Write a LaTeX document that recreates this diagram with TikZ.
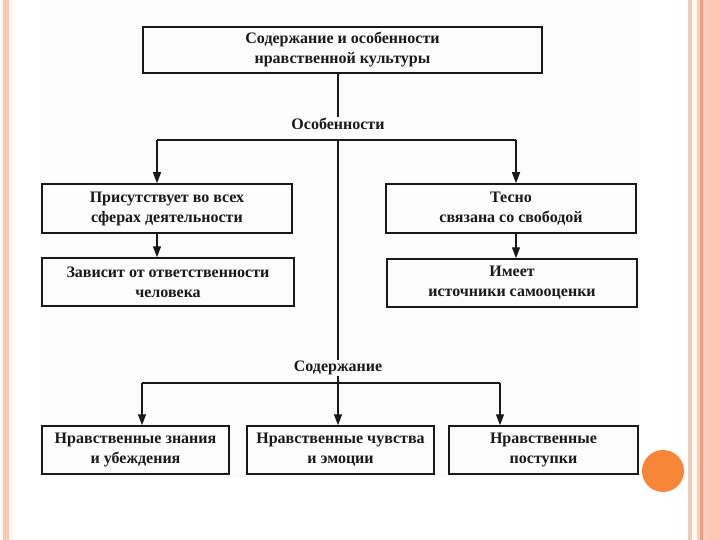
\documentclass[tikz,border=0pt]{standalone}
\usepackage{fontspec}
\setmainfont{Liberation Serif}
\usetikzlibrary{arrows.meta}
\definecolor{salmon}{RGB}{255,200,180}
\definecolor{salmondk}{RGB}{244,160,128}
\definecolor{pinkl}{RGB}{252,208,192}
\definecolor{tanl}{RGB}{236,206,184}
\definecolor{creaml}{RGB}{255,246,236}
\definecolor{orangedot}{RGB}{247,134,56}
\definecolor{scanbg}{RGB}{252,252,252}
\definecolor{inkc}{RGB}{25,25,25}
\tikzset{
  x=1pt, y=-1pt,
  box/.style={draw=inkc, line width=1.5pt, align=center, inner sep=0pt, text=inkc,
              font=\fontsize{16}{20}\selectfont\bfseries},
  lbl/.style={inner sep=1pt, text=inkc, font=\fontsize{16}{20}\selectfont\bfseries},
  conn/.style={draw=inkc, line width=1.3pt},
  arr/.style={draw=inkc, fill=inkc, line width=1.3pt, -{Triangle[length=11pt,width=8pt]}},
}
\begin{document}
\begin{tikzpicture}
\useasboundingbox (0,0) rectangle (720,540);
\fill[white] (0,0) rectangle (720,540);
\fill[scanbg] (40,0) rectangle (640,478);
% left border strip
\fill[salmon] (3,0) rectangle (9,540);
\fill[creaml] (11,0) rectangle (14,540);
% right border strips
\fill[tanl] (688,0) rectangle (692,540);
\fill[creaml] (692,0) rectangle (697,540);
\fill[pinkl] (697,0) rectangle (700,540);
\fill[salmondk] (700,0) rectangle (703,540);
\fill[pinkl] (703,0) rectangle (707,540);
\fill[salmon] (707,0) rectangle (720,540);
% orange dot
\fill[orangedot] (663,471) circle (21);

% nodes
\node[box, minimum width=399pt, minimum height=46pt] (top) at (342.5,50)
  {Содержание и особенности\\нравственной культуры};
\node[lbl] (osob) at (338,124) {Особенности};
\node[box, minimum width=250pt, minimum height=49pt] (b1) at (167,208.5)
  {Присутствует во всех\\сферах деятельности};
\node[box, minimum width=252pt, minimum height=48pt] (b2) at (168,282)
  {Зависит от ответственности\\человека};
\node[box, minimum width=250pt, minimum height=49pt] (b3) at (511,208.5)
  {Тесно\\связана со свободой};
\node[box, minimum width=250pt, minimum height=48pt] (b4) at (512,283)
  {Имеет\\источники самооценки};
\node[lbl] (sod) at (338,368) {Содержание};
\node[box, minimum width=187pt, minimum height=48pt] (c1) at (135.5,450)
  {Нравственные знания\\и убеждения};
\node[box, minimum width=187pt, minimum height=48pt] (c2) at (340.5,450)
  {Нравственные чувства\\и эмоции};
\node[box, minimum width=189pt, minimum height=48pt] (c3) at (543.5,450)
  {Нравственные\\поступки};

\coordinate (hj) at (338,140);
\coordinate (hl) at (157,140);
\coordinate (hr) at (516,140);
\coordinate (vj) at (338,383);
\coordinate (vl) at (142,383);
\coordinate (vr) at (500,383);

% connectors
\draw[conn] (osob.north |- top.south) -- (osob.north);
\draw[conn] (hl) -- (hr);
\draw[conn] (hj) -- (sod.north);
\draw[arr] (hl) -- (hl |- b1.north);
\draw[arr] (hr) -- (hr |- b3.north);
\draw[arr] (b1.south -| hl) -- (b2.north -| hl);
\draw[arr] (b3.south -| hr) -- (b4.north -| hr);
\draw[conn] (vl) -- (vr);
\draw[conn] (sod.south) -- (vj);
\draw[arr] (vl) -- (vl |- c1.north);
\draw[arr] (vj) -- (vj |- c2.north);
\draw[arr] (vr) -- (vr |- c3.north);
\end{tikzpicture}
\end{document}
